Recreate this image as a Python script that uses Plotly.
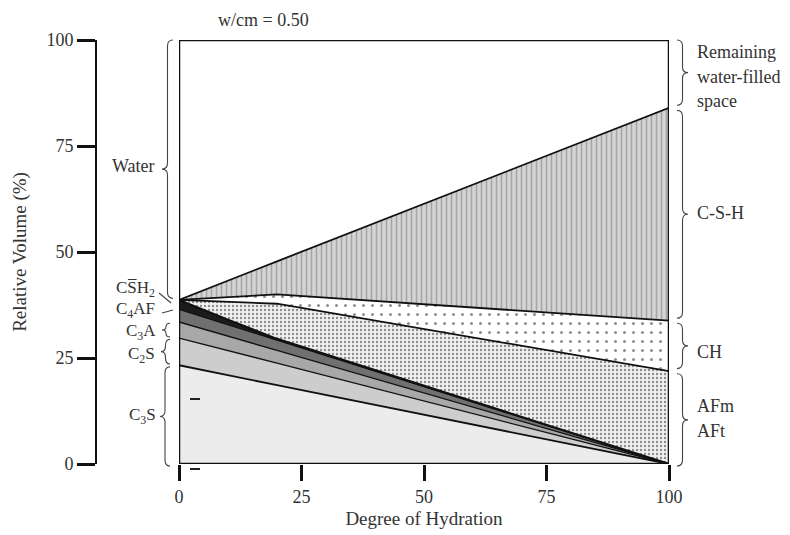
import plotly.graph_objects as go

# ---------------- data ----------------
hyd = [0, 10, 20, 100]                      # degree of hydration (%)
c3s_top = [23.3, 21.0, 18.6, 0.0]
c2s_top = [29.7, 26.7, 23.8, 0.0]
c3a_top = [33.5, 30.2, 26.8, 0.0]
c4af_top = [36.5, 32.9, 29.2, 0.0]
gyp_top = [38.7, 34.0, 29.5, 0.0]
afm_top = [38.7, 38.3, 37.8, 21.9]
ch_top = [38.7, 39.35, 40.0, 33.8]
csh_top = [38.7, 43.3, 47.8, 84.0]

x_ticks = [0, 25, 50, 75, 100]
y_ticks = [0, 25, 50, 75, 100]

# the page body has an 8px margin: figure is drawn from (8, 8)
OFF = 8
W, H = 790 - OFF, 535 - OFF
FONT = "Liberation Serif, DejaVu Serif, serif"
TXT = "#333333"
FS = 18

# plot-area corners in window pixels
X0P, X1P = 179, 669
Y0P, Y1P = 464, 40


def px(x):
    return (x - OFF) / W


def py(y):
    return 1 - (y - OFF) / H


def ypix(v):
    """data value on y axis -> window pixel row"""
    return Y0P - (Y0P - Y1P) * v / 100.0


XD = [px(X0P), px(X1P)]
YD = [py(Y0P), py(Y1P)]

fig = go.Figure()


def band(y, fill, color=None, pattern=None, lw=1.6):
    kw = dict(x=hyd, y=y, mode="lines", fill=fill,
              line=dict(color="#111111", width=lw), hoverinfo="skip",
              showlegend=False)
    if color:
        kw["fillcolor"] = color
    if pattern:
        kw["fillpattern"] = pattern
    fig.add_trace(go.Scatter(**kw))


band(c3s_top, "tozeroy", "#ececec", lw=1.8)
band(c2s_top, "tonexty", "#cdcdcd", lw=1.3)
band(c3a_top, "tonexty", "#a8a8a8", lw=1.3)
band(c4af_top, "tonexty", "#707070", lw=1.3)
band(gyp_top, "tonexty", "#1c1c1c", lw=2.2)
band(afm_top, "tonexty", "#eeeeee",
     pattern=dict(shape=".", size=4, solidity=0.28, fgcolor="#8c8c8c",
                  bgcolor="#f1f1f1", fillmode="replace"), lw=1.8)
band(ch_top, "tonexty", "#ffffff",
     pattern=dict(shape=".", size=9, solidity=0.09, fgcolor="#8f8f8f",
                  bgcolor="#ffffff", fillmode="replace"), lw=1.8)
band(csh_top, "tonexty", "#cccccc",
     pattern=dict(shape="|", size=5, solidity=0.3, fgcolor="#a4a4a4",
                  bgcolor="#d4d4d4", fillmode="replace"), lw=1.8)

shapes = []
# frame of the plot
shapes.append(dict(type="rect", xref="x", yref="y", x0=0, x1=100, y0=0, y1=100,
                   line=dict(color="#111111", width=2.5), layer="above"))


def brace(xf, v1, v2, d, w=11, lw=1.1):
    y1, y2 = ypix(v1), ypix(v2)
    ym = (y1 + y2) / 2
    xm = xf + d * w / 2
    xt = xf + d * w
    r = min(6, abs(y2 - y1) / 4)
    p = (f"M {px(xf)},{py(y1)} Q {px(xm)},{py(y1)} {px(xm)},{py(y1 + r)} "
         f"L {px(xm)},{py(ym - r)} Q {px(xm)},{py(ym)} {px(xt)},{py(ym)} "
         f"Q {px(xm)},{py(ym)} {px(xm)},{py(ym + r)} "
         f"L {px(xm)},{py(y2 - r)} Q {px(xm)},{py(y2)} {px(xf)},{py(y2)}")
    shapes.append(dict(type="path", xref="paper", yref="paper", path=p,
                       line=dict(color="#444444", width=lw)))


# right-hand braces
brace(677, 100, csh_top[-1] + 0.6, +1)
brace(677, csh_top[-1] - 0.6, ch_top[-1] + 0.6, +1)
brace(677, ch_top[-1] - 0.6, afm_top[-1] + 0.6, +1)
brace(677, afm_top[-1] - 0.6, -0.5, +1)
# left-hand braces
brace(173, 100, gyp_top[0] + 0.4, -1)
brace(170, c3a_top[0] - 0.3, c2s_top[0] + 0.3, -1, w=8)
brace(170, c2s_top[0] - 0.3, c3s_top[0] + 0.3, -1, w=9)
brace(170, c3s_top[0] - 0.4, -0.5, -1, w=10)

# small pointer strokes for CS̄H2 and C4AF
shapes.append(dict(type="line", xref="paper", yref="paper",
                   x0=px(159), y0=py(293), x1=px(171), y1=py(303),
                   line=dict(color="#444444", width=1.1)))
shapes.append(dict(type="line", xref="paper", yref="paper",
                   x0=px(162), y0=py(313), x1=px(173), y1=py(310),
                   line=dict(color="#444444", width=1.1)))
# two stray dashes visible in the reference
for yy in (399, 469):
    shapes.append(dict(type="line", xref="paper", yref="paper",
                       x0=px(190), y0=py(yy), x1=px(200), y1=py(yy),
                       line=dict(color="#222222", width=2)))

ann = []


def label(text, x, y, xanchor="left", size=FS):
    ann.append(dict(text=text, x=px(x), y=py(y), xref="paper", yref="paper",
                    xanchor=xanchor, yanchor="middle", showarrow=False,
                    font=dict(family=FONT, size=size, color=TXT), align="left"))


label("w/cm = 0.50", 216, 20)
label("Remaining", 695, 52)
label("water-filled", 695, 77)
label("space", 695, 101)
label("C-S-H", 695, 213)
label("CH", 695, 352)
label("AFm", 695, 406)
label("AFt", 695, 431)
label("Water", 157, 166, "right")
label("CS\u0305H<sub>2</sub>", 157, 289, "right", 17)
label("C<sub>4</sub>AF", 157, 310, "right", 17)
label("C<sub>3</sub>A", 158, 332, "right", 17)
label("C<sub>2</sub>S", 157, 355, "right", 17)
label("C<sub>3</sub>S", 158, 416, "right", 17)

fig.update_layout(
    width=W, height=H,
    margin=dict(l=0, r=0, t=0, b=0),
    paper_bgcolor="white", plot_bgcolor="white",
    shapes=shapes, annotations=ann, showlegend=False,
    xaxis=dict(domain=XD, range=[0, 100], tickvals=x_ticks,
               ticks="outside", ticklen=16, tickwidth=2.5, tickcolor="#111111",
               showline=False, showgrid=False, zeroline=False,
               tickfont=dict(family=FONT, size=FS, color=TXT),
               title=dict(text="Degree of Hydration", standoff=6,
                          font=dict(family=FONT, size=19, color=TXT)),
               automargin=False),
    yaxis=dict(domain=YD, range=[0, 100], tickvals=y_ticks,
               anchor="free", position=px(96), side="left",
               showline=True, linewidth=2, linecolor="#111111",
               ticks="outside", ticklen=18, tickwidth=2.5, tickcolor="#111111",
               showgrid=False, zeroline=False,
               tickfont=dict(family=FONT, size=FS, color=TXT),
               title=dict(text="Relative Volume (%)", standoff=14,
                          font=dict(family=FONT, size=19, color=TXT)),
               automargin=False),
)

fig.write_html("out.html")
